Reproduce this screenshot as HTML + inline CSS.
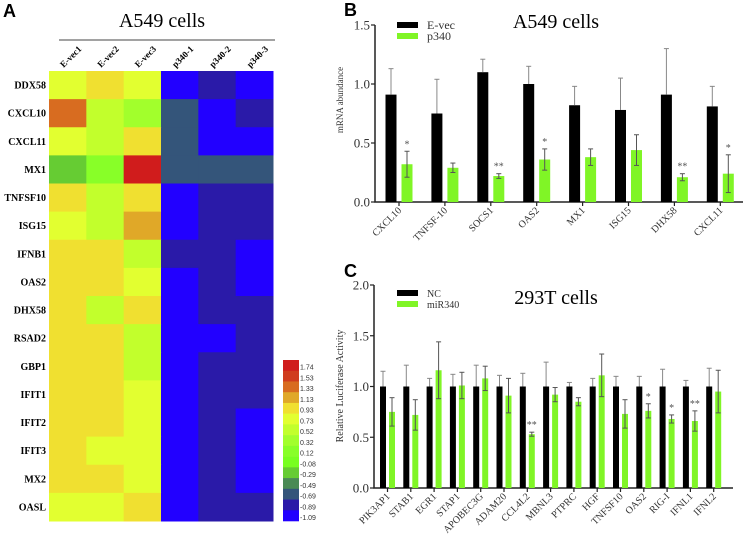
<!DOCTYPE html>
<html><head><meta charset="utf-8"><style>
body{margin:0;background:#fff;}
svg{display:block;font-family:"Liberation Serif",serif;}
</style></head><body>
<svg id="fig" width="744" height="546" viewBox="0 0 744 546" xmlns="http://www.w3.org/2000/svg">
<text x="3" y="17" font-family="Liberation Sans" font-weight="bold" font-size="18">A</text>
<text x="344" y="16" font-family="Liberation Sans" font-weight="bold" font-size="18">B</text>
<text x="344" y="277" font-family="Liberation Sans" font-weight="bold" font-size="18">C</text>
<text x="162" y="27" text-anchor="middle" font-size="20">A549 cells</text>
<line x1="59" y1="40" x2="275" y2="40" stroke="#444" stroke-width="1"/>
<g id="heat"></g>
<g id="cbar"></g>
<g id="chartB"></g>
<g id="chartC"></g>
</svg>
<script>
const NS="http://www.w3.org/2000/svg";
function mk(p,tag,at,txt){const e=document.createElementNS(NS,tag);for(const k in at)e.setAttribute(k,at[k]);if(txt!==undefined)e.textContent=txt;p.appendChild(e);return e;}

// Heatmap data
const heatRows=["DDX58","CXCL10","CXCL11","MX1","TNFSF10","ISG15","IFNB1","OAS2","DHX58","RSAD2","GBP1","IFIT1","IFIT2","IFIT3","MX2","OASL"];
const heatCols=["E-vec1","E-vec2","E-vec3","p340-1","p340-2","p340-3"];
const heatVals=[
[0.8,1.0,0.8,-1.09,-0.95,-1.09],
[1.4,0.5,0.3,-0.7,-1.09,-0.95],
[0.8,0.5,1.0,-0.7,-1.09,-1.09],
[-0.3,0.1,1.8,-0.7,-0.7,-0.7],
[1.0,0.5,1.0,-1.09,-0.95,-0.95],
[0.8,0.5,1.2,-1.09,-0.95,-0.95],
[1.0,1.0,0.6,-0.95,-0.95,-1.09],
[1.0,1.0,0.8,-1.09,-0.95,-1.09],
[1.0,0.5,1.0,-1.09,-0.95,-0.95],
[1.0,1.0,0.6,-1.09,-1.09,-0.95],
[1.0,1.0,0.6,-1.09,-0.95,-0.95],
[1.0,1.0,0.8,-1.09,-0.95,-0.95],
[1.0,1.0,0.8,-1.09,-0.95,-1.09],
[1.0,0.8,0.8,-1.09,-0.95,-1.09],
[1.0,1.0,0.8,-1.09,-0.95,-1.09],
[0.8,0.8,1.0,-1.09,-0.95,-0.95]];
const scaleLabels=[1.74,1.53,1.33,1.13,0.93,0.73,0.52,0.32,0.12,-0.08,-0.29,-0.49,-0.69,-0.89,-1.09];
const scaleColors=["#d01c1c","#d03c1e","#d86c20","#e0a828","#f0e030","#e2ff30","#c2ff2c","#a2ff2c","#88ff28","#78ff20","#66cc33","#4a8a55","#34557a","#2a1aa8","#2200ff"];
function colorFor(v){let bi=0,bd=1e9;scaleLabels.forEach((l,i)=>{const d=Math.abs(l-v);if(d<bd){bd=d;bi=i;}});return scaleColors[bi];}

(function(){
 const g=document.getElementById('heat');
 const x0=49,y0=71,cw=224/6,rh=450/16;
 heatVals.forEach((row,r)=>{row.forEach((v,c)=>{
  const e=mk(g,'rect',{x:x0+c*cw,y:y0+r*rh,width:cw+0.5,height:rh+0.5,fill:colorFor(v)});
  
  
 });
 const t=mk(g,'text',{x:46,y:y0+r*rh+rh/2+3.5,'text-anchor':'end','font-size':10,'font-weight':'bold'},heatRows[r]);
 
 
 });
 heatCols.forEach((c,i)=>{
  const cx=x0+i*cw+cw/2-4, cy=68;
  const gg=mk(g,'g',{transform:`translate(${cx} ${cy}) rotate(-45)`});
  const t=mk(gg,'text',{x:0,y:0,'text-anchor':'start','font-size':9,'font-weight':'bold'},c);
  
  
 });
 const cb=document.getElementById('cbar');
 const bx=283,by=360,bh=161/15;
 scaleLabels.forEach((l,i)=>{
  const e=mk(cb,'rect',{x:bx,y:by+i*bh,width:16,height:bh+0.3,fill:scaleColors[i]});
  
  
  const t=mk(cb,'text',{x:bx+17,y:by+(i+1)*bh-1,'font-size':7,'font-family':'Liberation Sans',fill:'#333'},l.toFixed(2));
  
  
 });
})();

// Chart B data
const bCats=["CXCL10","TNFSF-10","SOCS1","OAS2","MX1","ISG15","DHX58","CXCL11"];
const bEvec=[0.91,0.75,1.10,1.00,0.82,0.78,0.91,0.81];
const bEvecErr=[0.22,0.29,0.11,0.15,0.16,0.27,0.39,0.17];
const bP340=[0.32,0.29,0.22,0.36,0.38,0.44,0.21,0.24];
const bP340Err=[0.11,0.04,0.02,0.09,0.07,0.13,0.03,0.16];
const bStars=["*","","**","*","","","**","*"];
const bTicks=[0,0.5,1.0,1.5];

// Chart C data
const cCats=["PIK3AP1","STAB1","EGR1","STAP1","APOBEC3G","ADAM20","CCL4L2","MBNL3","PTPRC","HGF","TNFSF10","OAS2","RIG-I","IFNL1","IFNL2"];
const cNC=[1,1,1,1,1,1,1,1,1,1,1,1,1,1,1];
const cNCErr=[0.15,0.21,0.08,0.12,0.21,0.11,0.13,0.24,0.04,0.08,0.10,0.10,0.17,0.06,0.18];
const cMiR=[0.75,0.72,1.16,1.01,1.08,0.91,0.53,0.92,0.85,1.11,0.73,0.76,0.68,0.66,0.95];
const cMiRErr=[0.14,0.15,0.28,0.13,0.12,0.17,0.02,0.07,0.04,0.21,0.14,0.07,0.04,0.10,0.21];
const cStars=["","","","","","","**","","","","","*","*","**",""];
const cTicks=[0,0.5,1.0,1.5,2.0];

function barChart(o){
 const g=document.getElementById(o.id);
 const y=v=>o.y0-(v/o.ymax)*(o.y0-o.ytop);
 const x=i=>o.t0+i*o.step;
 const ax=mk(g,'path',{d:`M${o.ax} ${o.ytop} V${o.y0} H${o.xend}`,stroke:'#222','stroke-width':1.5,fill:'none'});
 
 o.ticks.forEach(t=>{
  mk(g,'line',{x1:o.ax-4,x2:o.ax,y1:y(t),y2:y(t),stroke:'#222','stroke-width':1.2});
  const tl=mk(g,'text',{x:o.ax-5,y:y(t)+4.5,'text-anchor':'end','font-size':13,fill:'#333'},t.toFixed(1));
  
 });
 const yl=mk(g,'text',{x:o.ylx,y:o.yly,'text-anchor':'middle','font-size':o.ylsize,fill:'#333',transform:`rotate(-90 ${o.ylx} ${o.yly})`},o.ylabel);
 
 o.cats.forEach((c,i)=>{
  const tx=x(i);
  mk(g,'line',{x1:tx,x2:tx,y1:o.y0,y2:o.y0+4,stroke:'#222','stroke-width':1.2});
  const s=[[o.a,o.aErr,'#000',-o.off1,'#888'],[o.b,o.bErr,'#80f526',o.off2,'#555']];
  s.forEach((d,k)=>{
   const cx=tx+d[3],v=d[0][i],ev=v+d[1][i];
   const r=mk(g,'rect',{x:cx-o.bw/2,y:y(v),width:o.bw,height:o.y0-y(v),fill:d[2]});
   
   
   const lo=k?y(v-d[1][i]):y(v);
   mk(g,'line',{x1:cx,x2:cx,y1:y(ev),y2:lo,stroke:d[4],'stroke-width':1});
   mk(g,'line',{x1:cx-2.5,x2:cx+2.5,y1:y(ev),y2:y(ev),stroke:d[4],'stroke-width':1});
   if(k) mk(g,'line',{x1:cx-2.5,x2:cx+2.5,y1:lo,y2:lo,stroke:d[4],'stroke-width':1});
  });
  if(o.stars[i]){
   const st=mk(g,'text',{x:tx+o.off2,y:y(o.b[i]+o.bErr[i])-4,'text-anchor':'middle','font-size':10,fill:'#555'},o.stars[i]);
   
  }
  const lx=tx+3,ly=o.y0+9;
  const cl=mk(g,'text',{x:lx,y:ly,'text-anchor':'end','font-size':o.catsize,fill:'#333',transform:`rotate(-45 ${lx} ${ly})`},c);
  
 });
 const tt=mk(g,'text',{x:556,y:o.titleY,'text-anchor':'middle','font-size':20},o.title);
 
 [[o.la,'#000',o.legY],[o.lb,'#80f526',o.legY+11]].forEach(l=>{
  const r=mk(g,'rect',{x:397,y:l[2]-3,width:21,height:6,fill:l[1]});
  
  const t=mk(g,'text',{x:427,y:l[2]+4,'font-size':o.legsize,fill:'#333'},l[0]);
  
 });
}
barChart({id:'chartB',cats:bCats,a:bEvec,aErr:bEvecErr,b:bP340,bErr:bP340Err,stars:bStars,ticks:bTicks,
 ax:375,y0:202,ytop:25,ymax:1.5,xend:743,t0:399,step:45.9,bw:11,off1:8,off2:8,
 ylabel:'mRNA abundance',ylx:343,yly:100,ylsize:9,catsize:10,title:'A549 cells',titleY:28,la:'E-vec',lb:'p340',legY:25,legsize:12});
barChart({id:'chartC',cats:cCats,a:cNC,aErr:cNCErr,b:cMiR,bErr:cMiRErr,stars:cStars,ticks:cTicks,
 ax:374,y0:488,ytop:285,ymax:2.0,xend:733,t0:387.5,step:23.3,bw:6,off1:4.5,off2:4.5,
 ylabel:'Relative Luciferase Activity',ylx:343,yly:386,ylsize:10,catsize:10,title:'293T cells',titleY:304,la:'NC',lb:'miR340',legY:293,legsize:10});
</script>
</body></html>
